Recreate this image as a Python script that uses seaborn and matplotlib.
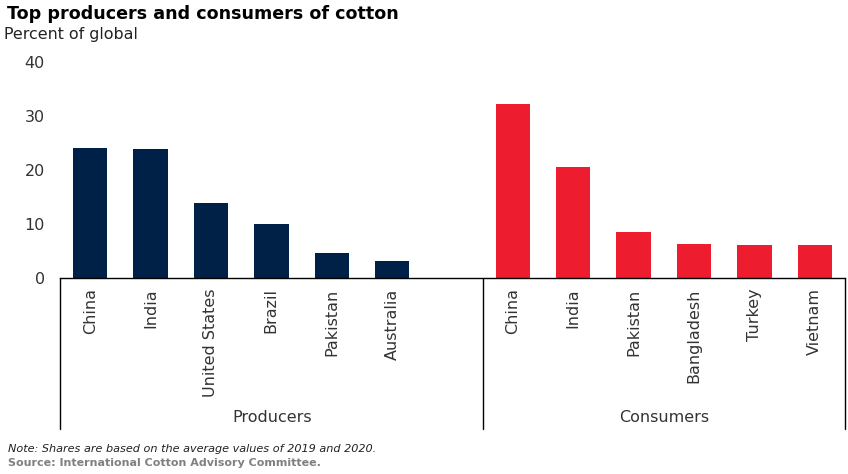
import pandas as pd
import matplotlib
matplotlib.use("Agg")
import matplotlib.pyplot as plt
import seaborn as sns

# Values
producers = ["China", "India", "United States", "Brazil", "Pakistan", "Australia"]
producer_share = [24.1, 23.9, 13.8, 10.0, 4.6, 3.2]
consumers = ["China", "India", "Pakistan", "Bangladesh", "Turkey", "Vietnam"]
consumer_share = [32.2, 20.6, 8.5, 6.3, 6.1, 6.1]
y_ticks = [0, 10, 20, 30, 40]

NAVY = "#002147"
RED = "#ED1C2E"

sns.set_theme(style="white")
plt.rcParams["font.family"] = ["DejaVu Sans"]

# China and Pakistan show up in both groups, so key the slots by group + name
df = pd.concat([
    pd.DataFrame({"group": "Producers", "name": producers, "share": producer_share}),
    pd.DataFrame({"group": "Consumers", "name": consumers, "share": consumer_share}),
])
df["slot"] = df["group"] + " " + df["name"]
order = [f"Producers {n}" for n in producers] + ["gap"] + [f"Consumers {n}" for n in consumers]

W, H = 848, 474
fig = plt.figure(figsize=(W / 100, H / 100), dpi=100)
ax = fig.add_axes([60 / W, 1 - 278 / H, 785 / W, 216 / H])

sns.barplot(data=df, x="slot", y="share", hue="group", order=order,
            palette={"Producers": NAVY, "Consumers": RED},
            width=0.57, dodge=False, legend=False, saturation=1,
            linewidth=0, ax=ax)

ax.set_xlim(-0.5, 12.5)
ax.set_ylim(0, 40)
ax.set_xlabel("")
ax.set_ylabel("")
ax.set_yticks(y_ticks)
ax.set_xticks(range(13))
ax.set_xticklabels(producers + [""] + consumers, rotation=90, fontsize=11.5, color="#333333")
ax.tick_params(axis="x", length=0, pad=7.5)
ax.tick_params(axis="y", length=0, pad=11, labelsize=11.5, labelcolor="#333333")
sns.despine(ax=ax, left=True)
ax.spines["bottom"].set_color("black")
ax.spines["bottom"].set_linewidth(1)


def px_text(x, y, s, **kw):
    fig.text(x / W, 1 - y / H, s, va="center", **kw)


# Group brackets under the axis
for x in [60, 483.5, 845]:
    fig.add_artist(plt.Line2D([x / W, x / W], [1 - 278 / H, 1 - 429 / H], color="black", lw=1))

px_text(272, 418, "Producers", ha="center", fontsize=11.5, color="#333333")
px_text(664, 418, "Consumers", ha="center", fontsize=11.5, color="#333333")

px_text(7, 14, "Top producers and consumers of cotton", fontsize=12.6, fontweight="bold", color="black")
px_text(4, 34, "Percent of global", fontsize=11.4, color="#222222")
px_text(8, 449, "Note: Shares are based on the average values of 2019 and 2020.",
        fontsize=8.15, style="italic", color="#222222")
px_text(8, 463, "Source: International Cotton Advisory Committee.",
        fontsize=8.0, fontweight="bold", color="#808080")

fig.savefig("out.png", dpi=100)
